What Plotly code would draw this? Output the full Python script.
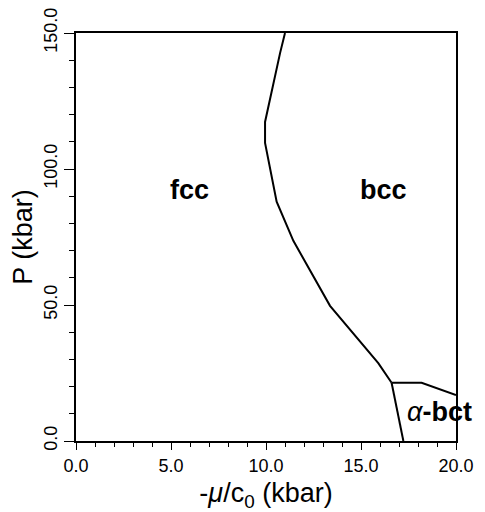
import plotly.graph_objects as go

# fcc / bcc phase boundary (x = -mu/c0 in kbar, P in kbar)
fcc_bcc_x = [11.0, 10.74, 9.95, 9.95, 10.56, 11.44, 13.37, 15.91, 16.61]
fcc_bcc_p = [150.0, 142.6, 117.3, 109.6, 88.0, 73.6, 49.7, 28.6, 21.4]

# fcc / alpha-bct boundary
fcc_bct_x = [16.61, 17.23]
fcc_bct_p = [21.4, 0.0]

# bcc / alpha-bct boundary
bcc_bct_x = [16.61, 18.19, 20.0]
bcc_bct_p = [21.4, 21.4, 16.9]

# phase labels
label_text = ["<b>fcc</b>", "<b>bcc</b>", "<i>α</i><b>-bct</b>"]
label_x = [5.95, 16.2, 19.15]
label_p = [92.3, 92.3, 10.5]

x_tickvals = [0, 5, 10, 15, 20]
x_ticktext = ["0.0", "5.0", "10.0", "15.0", "20.0"]
y_tickvals = [0, 50, 100, 150]
y_ticktext = ["0.0", "50.0", "100.0", "150.0"]

FONT = "Liberation Sans, Arial, Helvetica, sans-serif"

fig = go.Figure()
for xs, ps in [(fcc_bcc_x, fcc_bcc_p), (fcc_bct_x, fcc_bct_p), (bcc_bct_x, bcc_bct_p)]:
    fig.add_trace(go.Scatter(x=xs, y=ps, mode="lines",
                             line=dict(color="black", width=2),
                             showlegend=False, hoverinfo="skip", cliponaxis=False))

for t, x, y in zip(label_text, label_x, label_p):
    fig.add_annotation(x=x, y=y, text=t, showarrow=False,
                       font=dict(family=FONT, size=27, color="black"))

# page body has an 8px margin: size the figure so the plot area lands at
# x 76..456, y 33..441 in the 485x512 window
fig.update_layout(
    width=477, height=504,
    margin=dict(l=68, r=29, t=25, b=71, autoexpand=False),
    paper_bgcolor="white", plot_bgcolor="white",
    font=dict(family=FONT, color="black"),
    showlegend=False,
)
fig.update_xaxes(
    range=[0, 20], showgrid=False, zeroline=False, automargin=False,
    showline=True, linecolor="black", linewidth=2, mirror=True,
    tickmode="array", tickvals=x_tickvals, ticktext=x_ticktext,
    ticks="outside", ticklen=7, tickwidth=1.2, tickcolor="black",
    tickfont=dict(size=18, family=FONT),
    ticklabeloverflow="allow",
    minor=dict(dtick=1, ticks="outside", ticklen=4, tickwidth=1, tickcolor="black", showgrid=False),
    title=dict(text="-<i>μ</i>/c<sub>0</sub> (kbar)", font=dict(size=27, family=FONT)),
)
fig.update_yaxes(
    range=[0, 150], showgrid=False, zeroline=False, automargin=False,
    showline=True, linecolor="black", linewidth=2, mirror=True,
    tickmode="array", tickvals=y_tickvals, ticktext=y_ticktext,
    ticks="outside", ticklen=10, tickwidth=1.2, tickcolor="black",
    tickangle=-90,
    tickfont=dict(size=18, family=FONT),
    ticklabeloverflow="allow",
    minor=dict(dtick=10, ticks="outside", ticklen=5, tickwidth=1, tickcolor="black", showgrid=False),
    title=dict(text="P (kbar)", font=dict(size=27, family=FONT)),
)

fig.write_html("out.html")
